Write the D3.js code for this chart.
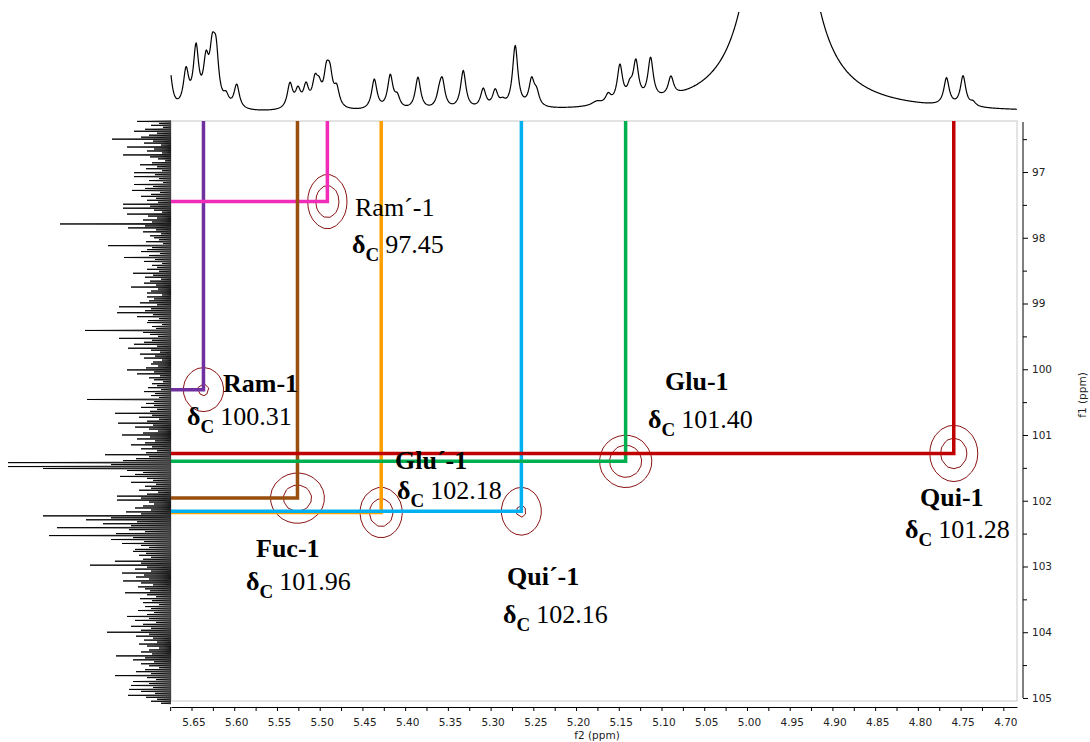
<!DOCTYPE html>
<html>
<head>
<meta charset="utf-8">
<script src="https://cdn.jsdelivr.net/npm/d3@7"></script>
<style>
  body { margin: 0; background: #fff; }
  svg { display: block; }
</style>
</head>
<body>
<svg id="chart" width="1090" height="742"></svg>
<script>
// ---------- HSQC anomeric cross peaks ----------
const residues      = ["Ram-1", "Ram´-1", "Fuc-1", "Glu´-1", "Qui´-1", "Glu-1", "Qui-1"];
const deltaH        = [5.636, 5.491, 5.526, 5.428, 5.264, 5.142, 4.758];        // f2, ppm
const deltaC        = [100.31, 97.45, 101.96, 102.18, 102.16, 101.40, 101.28];  // f1, ppm
const peakIntensity = [2.14, 2.95, 2.62, 2.75, 2.12, 3.08, 2.70];
const peakWidthH    = [0.0190, 0.0155, 0.0227, 0.0173, 0.0190, 0.0203, 0.0199]; // ppm
const peakWidthC    = [0.271, 0.279, 0.274, 0.268, 0.296, 0.264, 0.302];        // ppm
const contourLevels = [1, 2];

// ---------- 1H projection (peak list: shift, height, half width) ----------
const hShift  = [5.6763, 5.6564, 5.6447, 5.6330, 5.6257, 5.6213, 5.6096, 5.5971,
                 5.5348, 5.5254, 5.5160, 5.5055, 5.5008, 5.4921, 5.4880, 5.4801,
                 5.4361, 5.4174, 5.4092, 5.3850, 5.3601, 5.3566, 5.3320, 5.3086,
                 5.2946, 5.2859, 5.2712, 5.2520, 5.2462, 5.1760, 5.1624, 5.1487,
                 5.1370, 5.1300, 5.1128, 5.0890, 4.9616, 4.7665, 4.7471, 4.7354];
const hHeight = [46, 36, 58, 40, 46, 48, 10, 24,
                 25, 17, 21, 24, 16, 30, 28, 18,
                 30, 33, 11, 32, 11, 26, 38, 19,
                 17, 5, 62, 26, 13, 4, 9, 37,
                 12, 38, 41, 19, 667, 27, 30, 4];
const hWidth  = [0.0038, 0.0038, 0.0038, 0.0038, 0.0038, 0.0038, 0.0038, 0.0038,
                 0.0038, 0.0038, 0.0038, 0.0038, 0.0038, 0.0038, 0.0038, 0.0038,
                 0.0038, 0.0038, 0.0038, 0.0038, 0.0038, 0.0038, 0.0038, 0.0038,
                 0.0038, 0.0038, 0.0038, 0.0038, 0.0038, 0.0070, 0.0038, 0.0038,
                 0.0038, 0.0038, 0.0038, 0.0038, 0.0202, 0.0038, 0.0038, 0.0038];

// ---------- 13C projection (sampled every 0.03 ppm from 96.23 ppm) ----------
const c13Start = 96.23, c13Step = 0.03;
const c13Intensity = [
  34,12,20,8,26,37,14,22,30,59,18,27,10,44,17,24,9,48,21,13,
  6,19,31,14,25,9,37,16,37,12,22,8,37,18,26,39,11,20,30,15,
  24,13,48,21,48,17,9,44,23,14,28,19,111,26,43,15,28,10,21,17,
  12,25,8,63,19,24,30,11,22,47,16,27,9,19,14,24,12,38,18,26,
  10,21,27,15,40,13,20,24,9,24,17,22,31,14,52,20,26,54,18,34,
  12,23,24,9,19,15,86,28,21,13,52,19,27,37,14,43,20,11,31,16,
  27,9,18,20,13,25,44,17,34,11,22,17,8,19,14,23,10,27,16,20,
  12,84,17,25,17,30,14,21,56,19,32,12,24,53,18,36,22,13,28,49,
  21,34,16,26,40,19,30,14,25,66,22,35,48,163,60,163,128,44,28,36,
  51,24,18,40,15,26,20,32,13,24,54,30,54,22,17,28,36,20,45,30,
  128,60,85,34,68,40,114,42,26,55,122,38,60,27,49,30,22,36,38,25,
  32,20,28,56,30,81,24,36,20,49,27,35,22,48,30,18,33,26,21,46,
  24,15,31,19,28,12,26,20,33,17,24,44,22,36,15,28,40,20,30,64,
  22,35,18,27,14,32,24,12,22,30,19,55,26,38,17,30,22,12,26,35,
  20,56,24,15,38,22,40,18,42,30,16,43,25,14,20,10
];

// ---------- axis labels ----------
const xTickLabels = ["5.65","5.60","5.55","5.50","5.45","5.40","5.35","5.30","5.25","5.20",
                     "5.15","5.10","5.05","5.00","4.95","4.90","4.85","4.80","4.75","4.70"];
const yTickLabels = ["97","98","99","100","101","102","103","104","105"];

// ---------- styles & layout ----------
const guideColors = ["#7030a0", "#f02cb8", "#9a4f0e", "#ff9e00", "#00b0f0", "#00b050", "#c00000"];
const labelBold   = [true, false, true, true, true, true, true];
// [name x, name baseline, delta x, delta baseline] in pixels
const labelLayout = [
  [223, 392, 187, 425],
  [355, 216, 352, 253],
  [256, 557, 246, 590],
  [395, 469, 397, 499],
  [507, 585, 503, 623],
  [665, 390, 648, 428],
  [920, 506, 905, 538]
];

const frame = { left: 171, right: 1017, top: 121, bottom: 701 };
const svg = d3.select("#chart");
const serif = "'Liberation Serif','Times New Roman',serif";
const sans = "'DejaVu Sans',Verdana,sans-serif";

const x = d3.scaleLinear().domain([5.674, 4.684]).range([frame.left, frame.right]);
const y = d3.scaleLinear().domain([96.224, 105.046]).range([frame.top, frame.bottom]);

// plot frame
svg.append("rect")
  .attr("x", frame.left).attr("y", frame.top)
  .attr("width", frame.right - frame.left).attr("height", frame.bottom - frame.top)
  .attr("fill", "#fff").attr("stroke", "#c8c8c8").attr("stroke-width", 1);

// ---------- contour map ----------
const step = 6;
const nx = Math.ceil((frame.right - frame.left) / step);
const ny = Math.ceil((frame.bottom - frame.top) / step);
const grid = new Float64Array(nx * ny);
for (let j = 0; j < ny; j++) {
  const c = y.invert(frame.top + (j + 0.5) * step);
  for (let i = 0; i < nx; i++) {
    const h = x.invert(frame.left + (i + 0.5) * step);
    let v = 0;
    for (let k = 0; k < residues.length; k++) {
      const dh = (h - deltaH[k]) / peakWidthH[k];
      const dc = (c - deltaC[k]) / peakWidthC[k];
      v += peakIntensity[k] * Math.exp(-0.5 * (dh * dh + dc * dc));
    }
    grid[j * nx + i] = v;
  }
}
const contours = d3.contours().size([nx, ny]).thresholds(contourLevels)(grid);
const gridPath = d3.geoPath(d3.geoTransform({
  point(px, py) { this.stream.point(frame.left + px * step, frame.top + py * step); }
}));
svg.append("g")
  .selectAll("path")
  .data(contours)
  .join("path")
  .attr("d", gridPath)
  .attr("fill", "none")
  .attr("stroke", "#8b1414")
  .attr("stroke-width", 1);

// ---------- guide lines from the axes to each cross peak ----------
svg.append("g")
  .selectAll("path")
  .data(residues.map((r, i) => i))
  .join("path")
  .attr("d", i => `M${x(deltaH[i])},${frame.top}V${y(deltaC[i])}H${frame.left}`)
  .attr("fill", "none")
  .attr("stroke", i => guideColors[i])
  .attr("stroke-width", 3.5)
  .attr("stroke-linejoin", "miter");

// ---------- residue labels ----------
const lg = svg.append("g").style("font-family", serif).attr("fill", "#000");
residues.forEach((name, i) => {
  const [nxp, nyp, dxp, dyp] = labelLayout[i];
  lg.append("text")
    .attr("x", nxp).attr("y", nyp)
    .style("font-size", "26px")
    .style("font-weight", labelBold[i] ? "bold" : "normal")
    .text(name);
  const t = lg.append("text").attr("x", dxp).attr("y", dyp).style("font-size", "26px");
  t.append("tspan").style("font-weight", "bold").text("δ");
  t.append("tspan").style("font-weight", "bold").style("font-size", "19px").attr("dy", 8).text("C");
  t.append("tspan").attr("dy", -8).attr("dx", 6).text(deltaC[i].toFixed(2));
});

// ---------- bottom axis (f2) ----------
const xMajor = xTickLabels.map(Number);
const xMinor = xMajor.map(v => v + 0.025);
const axisY = 707;
svg.append("g")
  .attr("transform", `translate(0,${axisY})`)
  .call(d3.axisBottom(x).tickValues(xMinor).tickSize(4).tickSizeOuter(0).tickFormat(""))
  .call(g => g.select(".domain").attr("stroke", "#000"))
  .call(g => g.selectAll(".tick line").attr("stroke", "#000"));
svg.append("g")
  .attr("transform", `translate(0,${axisY})`)
  .call(d3.axisBottom(x).tickValues(xMajor).tickSize(4).tickSizeOuter(0).tickPadding(8)
          .tickFormat((d, i) => xTickLabels[i]))
  .call(g => g.select(".domain").remove())
  .call(g => g.selectAll(".tick line").attr("stroke", "#000"))
  .call(g => g.selectAll("text").attr("dx", 2).attr("fill", "#222")
               .style("font-family", sans).style("font-size", "10.5px"));
svg.append("text")
  .attr("x", 597).attr("y", 739)
  .attr("text-anchor", "middle")
  .style("font-family", sans).style("font-size", "10.5px").attr("fill", "#222")
  .text("f2 (ppm)");

// ---------- right axis (f1) ----------
const axisX = 1023;
const yMajor = yTickLabels.map(Number);
const yMinor = [96.5].concat(yMajor.slice(0, -1).map(v => v + 0.5));
svg.append("line")
  .attr("x1", axisX).attr("x2", axisX)
  .attr("y1", frame.top + 1).attr("y2", y(105))
  .attr("stroke", "#000");
svg.append("g")
  .attr("transform", `translate(${axisX},0)`)
  .call(d3.axisRight(y).tickValues(yMinor).tickSize(4).tickFormat(""))
  .call(g => g.select(".domain").remove())
  .call(g => g.selectAll(".tick line").attr("stroke", "#000"));
svg.append("g")
  .attr("transform", `translate(${axisX},0)`)
  .call(d3.axisRight(y).tickValues(yMajor).tickSize(5).tickPadding(4)
          .tickFormat((d, i) => yTickLabels[i]))
  .call(g => g.select(".domain").remove())
  .call(g => g.selectAll(".tick line").attr("stroke", "#000"))
  .call(g => g.selectAll("text").attr("fill", "#222")
               .style("font-family", sans).style("font-size", "10.5px"));
svg.append("text")
  .attr("transform", "translate(1086,395) rotate(-90)")
  .attr("text-anchor", "middle")
  .style("font-family", sans).style("font-size", "10.5px").attr("fill", "#222")
  .text("f1 (ppm)");

// ---------- 1H projection along the top ----------
const hY = d3.scaleLinear().domain([0, 100]).range([113, 13]);
svg.append("clipPath").attr("id", "topClip")
  .append("rect").attr("x", frame.left - 2).attr("y", 12)
  .attr("width", frame.right - frame.left + 4).attr("height", 108);
const hSamples = d3.range(x.domain()[0], x.domain()[1], -0.0005);
const hTrace = hSamples.map(p => {
  let v = 0;
  for (let k = 0; k < hShift.length; k++) {
    const d = p - hShift[k], g2 = hWidth[k] * hWidth[k];
    v += hHeight[k] * g2 / (g2 + d * d);
  }
  return [p, v];
});
svg.append("path")
  .datum(hTrace)
  .attr("clip-path", "url(#topClip)")
  .attr("d", d3.line().x(d => x(d[0])).y(d => hY(d[1])))
  .attr("fill", "none")
  .attr("stroke", "#000")
  .attr("stroke-width", 1.2);

// ---------- 13C projection along the left, drawn as thin spikes ----------
const cX = d3.scaleLinear().domain([0, 170]).range([frame.left, frame.left - 170]);
const spikePath = c13Intensity.map((v, i) => {
  const yc = y(c13Start + i * c13Step);
  return `M${frame.left},${yc - 0.5}L${cX(v)},${yc}L${frame.left},${yc + 0.5}`;
}).join("");
svg.append("path")
  .attr("d", spikePath)
  .attr("fill", "none")
  .attr("stroke", "#000")
  .attr("stroke-width", 0.9);
</script>
</body>
</html>
